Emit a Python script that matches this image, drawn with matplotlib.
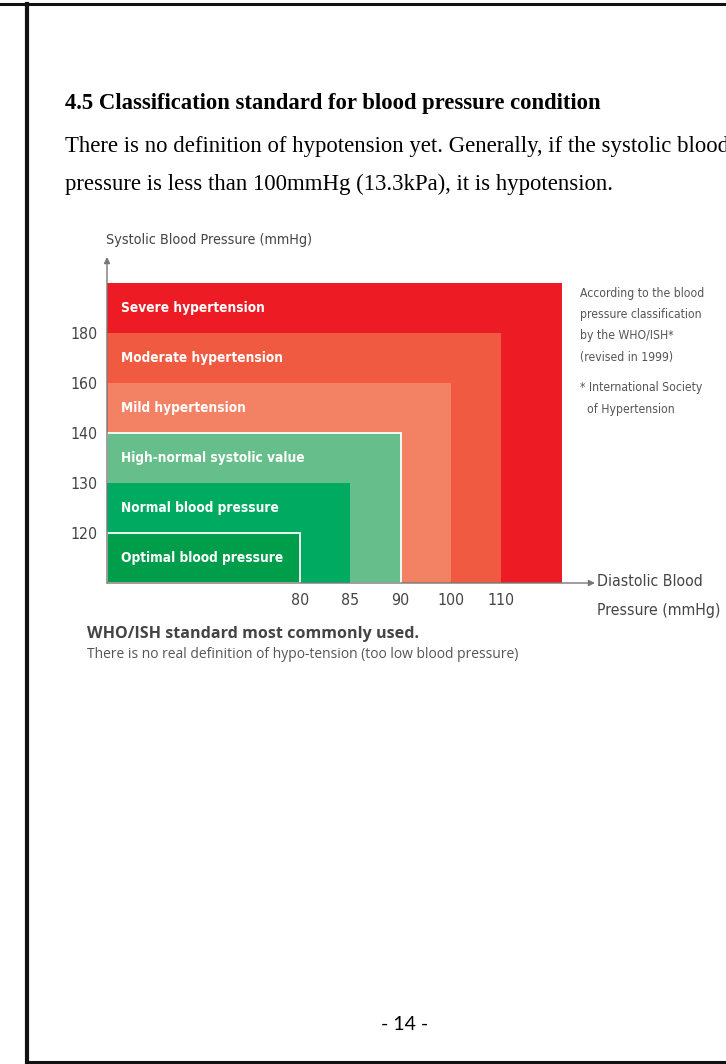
import matplotlib
matplotlib.use("Agg")
import matplotlib.pyplot as plt
from matplotlib.patches import Rectangle
from matplotlib.lines import Line2D

# --- data ---
systolic = [120, 130, 140, 160, 180]
diastolic = [80, 85, 90, 100, 110]
categories = ["Optimal blood pressure", "Normal blood pressure",
              "High-normal systolic value", "Mild hypertension",
              "Moderate hypertension", "Severe hypertension"]
colors = ["#009E4B", "#00AA60", "#66BE8A", "#F38264", "#EF5A41", "#ED1C24"]
outlined = ["Optimal blood pressure", "High-normal systolic value"]

W, H = 726, 1064
NARROW = ["DejaVu Sans"]
SERIF = ["Liberation Serif", "DejaVu Serif"]


def px(x, y):
    """pixel position (from top-left) -> figure fraction"""
    return x / W, 1 - y / H


fig = plt.figure(figsize=(W / 100, H / 100), dpi=100)

# page frame
for xs, ys, lw in [((0, W), (4, 4), 2.2), ((27, 27), (4, 1062), 3.0), ((27, W), (1062, 1062), 2.2)]:
    fx = [px(x, 0)[0] for x in xs]
    fy = [px(0, y)[1] for y in ys]
    fig.add_artist(Line2D(fx, fy, color="#111111", lw=lw))

# heading and body text (line 2 runs past the page edge, as in the source)
fig.text(*px(65, 103), "4.5 Classification standard for blood pressure condition",
         family=SERIF, weight="bold", fontsize=16.3, va="center", ha="left")
fig.text(*px(65, 146), "There is no definition of hypotension yet. Generally, if the systolic blood",
         family=SERIF, fontsize=16.4, va="center", ha="left")
fig.text(*px(65, 184), "pressure is less than 100mmHg (13.3kPa), it is hypotension.",
         family=SERIF, fontsize=16.4, va="center", ha="left")

# chart area
x0, x1, y0, y1 = 107, 562, 283, 583
ax = fig.add_axes([x0 / W, 1 - y1 / H, (x1 - x0) / W, (y1 - y0) / H])
xpos = [4 + i for i in range(len(diastolic))]
ypos = [1 + i for i in range(len(systolic))]
xmin, xmax = 0.16, 9.21
ax.set_xlim(xmin, xmax)
ax.set_ylim(0, len(systolic) + 1)

rights = xpos + [xmax]
tops = ypos + [len(systolic) + 1]
for i in reversed(range(len(categories))):
    ec = "white" if categories[i] in outlined else "none"
    ax.add_patch(Rectangle((xmin, 0), rights[i] - xmin, tops[i], facecolor=colors[i],
                           edgecolor=ec, lw=1.3))
    ax.text(xmin + 0.27, i + 0.5, categories[i], color="white", weight="bold",
            family=NARROW, stretch="condensed", fontsize=9.8, va="center", ha="left")

for s in ax.spines.values():
    s.set_visible(False)
ax.set_xticks(xpos, [str(v) for v in diastolic])
ax.set_yticks(ypos, [str(v) for v in systolic])
ax.tick_params(length=0, labelsize=11.4, colors="#444444", pad=7)
for lab in ax.get_xticklabels() + ax.get_yticklabels():
    lab.set_family(NARROW)
    lab.set_stretch("condensed")

# axis arrows
arrow = dict(arrowstyle="-|>", color="#777777", lw=1.0, mutation_scale=9, shrinkA=0, shrinkB=0)
ax.annotate("", xy=(0, (y1 - 257) / (y1 - y0)), xytext=(0, 0), xycoords="axes fraction",
            arrowprops=arrow, annotation_clip=False)
ax.annotate("", xy=((595 - x0) / (x1 - x0), 0), xytext=(0, 0), xycoords="axes fraction",
            arrowprops=arrow, annotation_clip=False)

# axis titles
fig.text(*px(106, 240), "Systolic Blood Pressure (mmHg)", family=NARROW, stretch="condensed",
         fontsize=10.3, color="#444444", va="center", ha="left")
fig.text(*px(597, 582), "Diastolic Blood", family=NARROW, stretch="condensed", fontsize=11.3,
         color="#444444", va="center", ha="left")
fig.text(*px(597, 610), "Pressure (mmHg)", family=NARROW, stretch="condensed", fontsize=11.3,
         color="#444444", va="center", ha="left")

# side notes
notes = ["According to the blood", "pressure classification", "by the WHO/ISH*", "(revised in 1999)"]
for k, line in enumerate(notes):
    fig.text(*px(580, 293 + 21.5 * k), line, family=NARROW, stretch="condensed", fontsize=8.7,
             color="#555555", va="center", ha="left")
fig.text(*px(580, 388), "* International Society", family=NARROW, stretch="condensed",
         fontsize=8.7, color="#555555", va="center", ha="left")
fig.text(*px(587, 410), "of Hypertension", family=NARROW, stretch="condensed", fontsize=8.7,
         color="#555555", va="center", ha="left")

# captions under the chart
fig.text(*px(87, 634), "WHO/ISH standard most commonly used.", family=["Open Sans", "DejaVu Sans"],
         weight="bold", fontsize=11.6, color="#444444", va="center", ha="left")
fig.text(*px(87, 654), "There is no real definition of hypo-tension (too low blood pressure)",
         family=["Open Sans", "DejaVu Sans"], fontsize=10, color="#555555", va="center", ha="left")

# page number
fig.text(*px(405, 1024), "- 14 -", family=["Lato", "DejaVu Sans"], fontsize=14,
         va="center", ha="center")

fig.savefig("out.png", dpi=100)
